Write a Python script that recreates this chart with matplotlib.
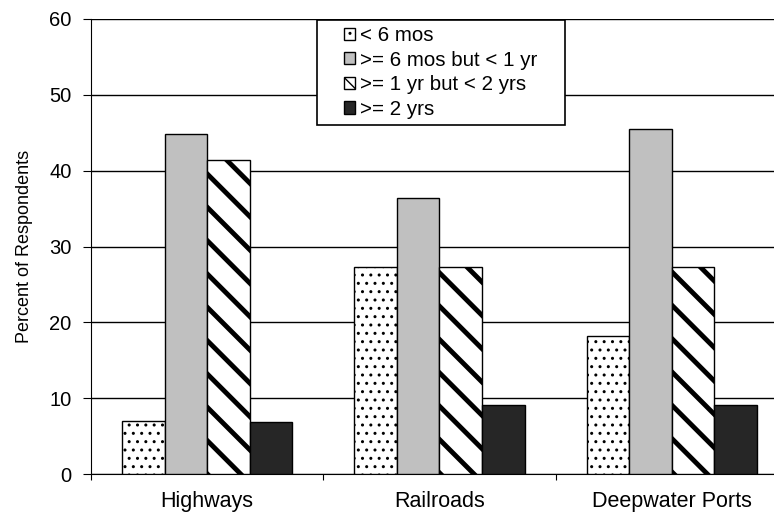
import numpy as np
import matplotlib.pyplot as plt
from matplotlib.patches import Rectangle

plt.rcParams["font.family"] = ["Liberation Sans", "DejaVu Sans"]

# Source data
categories = ["Highways", "Railroads", "Deepwater Ports"]
labels = ["< 6 mos", ">= 6 mos but < 1 yr", ">= 1 yr but < 2 yrs", ">= 2 yrs"]
lt_6mos = [7.0, 27.3, 18.2]
mos6_to_1yr = [44.8, 36.4, 45.5]
yr1_to_2yrs = [41.4, 27.3, 27.3]
ge_2yrs = [6.9, 9.1, 9.1]

values = [lt_6mos, mos6_to_1yr, yr1_to_2yrs, ge_2yrs]
faces = ["white", "#c0c0c0", "white", "#262626"]
hatches = ["..", None, "\\", None]
hatch_lw = [1.0, 1.0, 3.5, 1.0]

fig = plt.figure(figsize=(7.74, 5.12), dpi=100)
ax = fig.add_axes([91 / 774, 38 / 512, (788 - 91) / 774, (474 - 19) / 512])

x = np.arange(len(categories))
w = 0.183
for i, (vals, fc, h, lab) in enumerate(zip(values, faces, hatches, labels)):
    plt.rcParams["hatch.linewidth"] = hatch_lw[i]
    bars = ax.bar(x + (i - 1.5) * w, vals, width=w, color=fc, edgecolor="black",
                  hatch=h, linewidth=1, label=lab, zorder=3)
    for b in bars:
        if hasattr(b, "set_hatch_linewidth"):
            b.set_hatch_linewidth(hatch_lw[i])

ax.set_xlim(-0.5, 2.5)
ax.set_ylim(0, 60)
ax.set_yticks(range(0, 61, 10))
ax.yaxis.grid(True, color="black", linewidth=1)
ax.set_axisbelow(True)

ax.set_xticks([-0.5, 0.5, 1.5, 2.5])
ax.set_xticklabels([])
ax.set_xticks(x, minor=True)
ax.set_xticklabels(categories, minor=True, fontsize=15.5)
ax.tick_params(axis="x", which="minor", length=0, pad=12)
ax.tick_params(axis="x", which="major", length=4, direction="out")
ax.tick_params(axis="y", length=6, labelsize=14.5, pad=8)

for s in ["top", "right"]:
    ax.spines[s].set_visible(False)
ax.set_ylabel("Percent of Respondents", fontsize=13)
ax.yaxis.set_label_coords(-58 / 697, 0.5)

plt.rcParams["hatch.linewidth"] = 1.0
leg = ax.legend(loc="upper left", bbox_to_anchor=(344 / 774, 1 - 26 / 512),
                bbox_transform=fig.transFigure,
                fontsize=14.8, frameon=False,
                handlelength=0.55, handleheight=0.55, handletextpad=0.25,
                borderpad=0, labelspacing=0.27, borderaxespad=0)
leg.set_zorder(6)

# legend frame: wide side padding, tight top/bottom
fig.canvas.draw()
bb = leg.get_window_extent()
inv = ax.transAxes.inverted()
(x0, y0) = inv.transform((bb.x0 - 27, bb.y0 - 6))
(x1, y1) = inv.transform((bb.x1 + 27, bb.y1 + 6))
ax.add_patch(Rectangle((x0, y0), x1 - x0, y1 - y0, transform=ax.transAxes,
                       facecolor="white", edgecolor="black", linewidth=1.2,
                       zorder=5, clip_on=False))

fig.savefig("out.png", dpi=100)
